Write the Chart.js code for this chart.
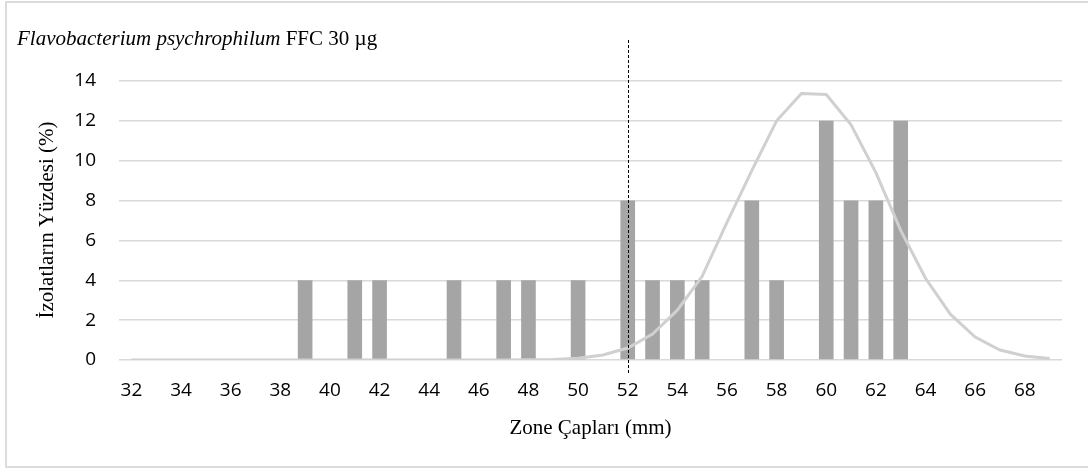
<!DOCTYPE html>
<html>
<head>
<meta charset="utf-8">
<script src="https://cdn.jsdelivr.net/npm/chart.js@4"></script>
<style>
  html, body { margin: 0; padding: 0; background: #ffffff; }
  #wrap { position: relative; width: 1088px; height: 471px; overflow: hidden; }
  #frame { position: absolute; left: 5px; top: 1px; width: 1100px; height: 467px; border: 2px solid #dcdcdc; box-sizing: border-box; }
  canvas { position: absolute; left: 0; top: 0; }
</style>
</head>
<body>
<div id="wrap">
  <div id="frame"></div>
  <canvas id="c" width="1088" height="471"></canvas>
</div>
<script>
// Zone diameters (mm), one category each
const categories = [32,33,34,35,36,37,38,39,40,41,42,43,44,45,46,47,48,49,50,51,52,53,54,55,56,57,58,59,60,61,62,63,64,65,66,67,68,69];
// Percentage of isolates per zone diameter (bars)
const isolatePercent = [0,0,0,0,0,0,0,4,0,4,4,0,0,4,0,4,4,0,4,0,8,4,4,4,0,8,4,0,12,8,8,12,0,0,0,0,0,0];
// Fitted distribution curve
const fittedCurve = [0,0,0,0,0,0,0,0,0,0,0,0,0,0,0,0,0.01,0.03,0.09,0.25,0.6,1.3,2.5,4.2,6.9,9.5,12.0,13.37,13.32,11.8,9.4,6.5,4.1,2.3,1.15,0.5,0.2,0.07];
// Y tick values
const yTicks = [0,2,4,6,8,10,12,14];
// Cut-off marker
const cutoffValue = 52;

const titleItalic = 'Flavobacterium psychrophilum';
const titleNormal = ' FFC 30 µg';
const yTitle = 'İzolatların Yüzdesi (%)';
const xTitle = 'Zone Çapları (mm)';

const overlay = {
  id: 'overlay',
  afterDatasetsDraw(chart) {
    const ctx = chart.ctx;
    const x = chart.scales.x;
    const px = Math.round(x.getPixelForValue(categories.indexOf(cutoffValue))) + 0.5;
    ctx.save();
    ctx.strokeStyle = '#000000';
    ctx.lineWidth = 1;
    ctx.setLineDash([3, 2]);
    ctx.beginPath();
    ctx.moveTo(px, 40);
    ctx.lineTo(px, 373);
    ctx.stroke();
    ctx.restore();
  },
  afterDraw(chart) {
    const ctx = chart.ctx;
    const ca = chart.chartArea;
    ctx.save();
    ctx.fillStyle = '#000000';
    ctx.textBaseline = 'alphabetic';
    ctx.textAlign = 'left';
    ctx.font = 'italic 21px "Liberation Serif"';
    ctx.fillText(titleItalic, 17, 45);
    const w = ctx.measureText(titleItalic).width;
    ctx.font = '21px "Liberation Serif"';
    ctx.fillText(titleNormal, 17 + w, 45);
    // x title
    ctx.textAlign = 'center';
    ctx.textBaseline = 'middle';
    ctx.font = '21px "Liberation Serif"';
    ctx.fillText(xTitle, (ca.left + ca.right) / 2, 428);
    // y title
    ctx.translate(47, 220);
    ctx.rotate(-Math.PI / 2);
    ctx.fillText(yTitle, 0, 0);
    ctx.restore();
  }
};

new Chart(document.getElementById('c'), {
  type: 'bar',
  data: {
    labels: categories.map(String),
    datasets: [
      {
        type: 'line',
        data: fittedCurve,
        borderColor: '#d0d0d0',
        borderWidth: 3,
        pointRadius: 0,
        tension: 0,
        fill: false,
        order: 0
      },
      {
        type: 'bar',
        data: isolatePercent,
        backgroundColor: '#a5a5a5',
        borderWidth: 0,
        barPercentage: 0.59,
        categoryPercentage: 1.0,
        order: 1
      }
    ]
  },
  options: {
    responsive: false,
    animation: false,
    events: [],
    layout: { padding: { left: 0, right: 26, top: 81, bottom: 0 } },
    plugins: { legend: { display: false }, tooltip: { enabled: false }, title: { display: false } },
    scales: {
      x: {
        offset: true,
        grid: { display: false, drawTicks: false },
        border: { display: false },
        ticks: {
          autoSkip: false,
          maxRotation: 0,
          color: '#000000',
          font: { family: '"Open Sans"', size: 19 },
          padding: 19,
          callback: function(v, i) { return (categories[i] % 2 === 0) ? String(categories[i]) : ''; }
        },
        afterFit(s) { s.height = 111; }
      },
      y: {
        min: 0,
        max: 14,
        afterBuildTicks(s) { s.ticks = yTicks.map(v => ({ value: v })); },
        grid: { color: '#d9d9d9', lineWidth: 1.5, drawTicks: false },
        border: { display: false },
        ticks: {
          color: '#000000',
          font: { family: '"Open Sans"', size: 19 },
          padding: 23
        },
        afterFit(s) { s.width = 119; }
      }
    }
  },
  plugins: [overlay]
});
</script>
</body>
</html>
